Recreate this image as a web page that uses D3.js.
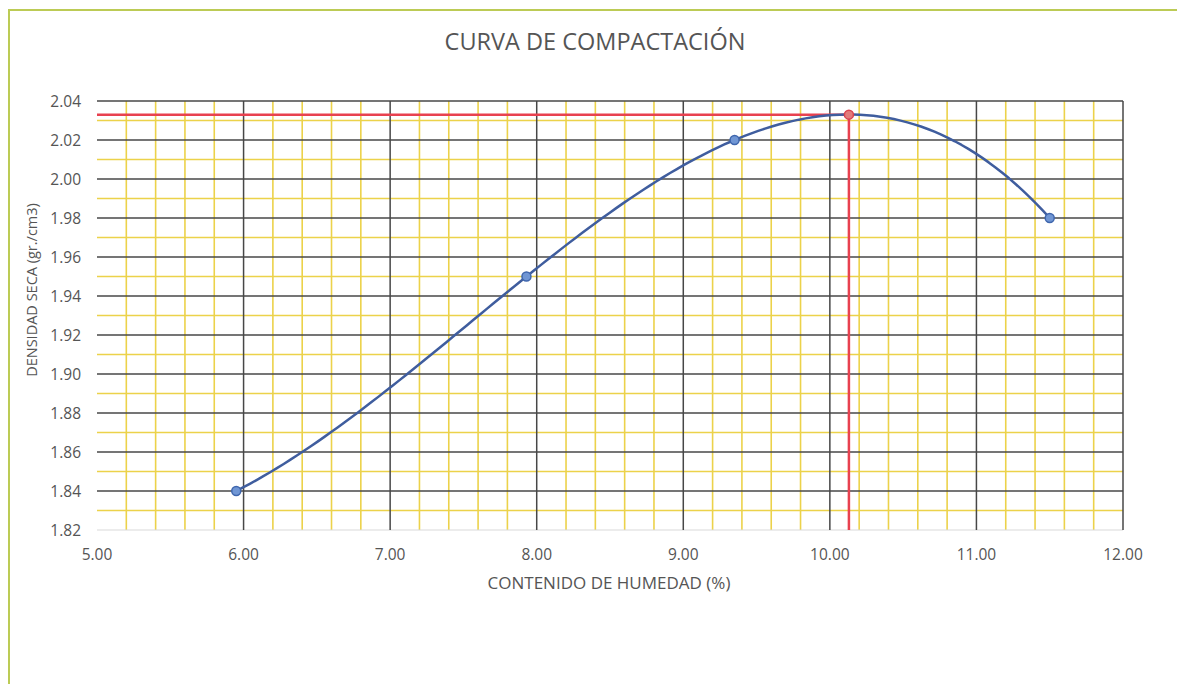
<!DOCTYPE html>
<html>
<head>
<meta charset="utf-8">
<script src="https://cdn.jsdelivr.net/npm/d3@7"></script>
<style>
  html, body { margin: 0; padding: 0; background: #ffffff; }
  svg { display: block; }
  text { font-family: "Open Sans", "Noto Sans", sans-serif; fill: #555555; }
</style>
</head>
<body>
<svg id="chart" width="1177" height="684"></svg>
<script>
// Ensayo Proctor: puntos medidos, contenido de humedad (%) vs densidad seca (gr./cm3)
const humedad  = [5.95, 7.93, 9.35, 11.50];
const densidad = [1.840, 1.950, 2.020, 1.980];

// Máxima densidad seca / óptimo contenido de humedad
const optimoHumedad = 10.13;
const maxDensidad   = 2.033;

const xTicks = [5, 6, 7, 8, 9, 10, 11, 12];
const yTicks = [1.82, 1.84, 1.86, 1.88, 1.90, 1.92, 1.94, 1.96, 1.98, 2.00, 2.02, 2.04];

const titulo = "CURVA DE COMPACTACIÓN";
const ejeX   = "CONTENIDO DE HUMEDAD (%)";
const ejeY   = "DENSIDAD SECA (gr./cm3)";

const svg = d3.select("#chart");
const W = 1177, H = 684;
const m = { left: 97, right: 1123, top: 101, bottom: 530 };

// Línea de tendencia polinómica (orden 3) por mínimos cuadrados
function ajustePolinomico(xs, ys, orden) {
  const n = orden + 1;
  const A = Array.from({ length: n }, () => new Array(n + 1).fill(0));
  for (let r = 0; r < n; r++) {
    for (let c = 0; c < n; c++) A[r][c] = d3.sum(xs, v => Math.pow(v, r + c));
    A[r][n] = d3.sum(xs, (v, i) => ys[i] * Math.pow(v, r));
  }
  for (let p = 0; p < n; p++) {
    let piv = p;
    for (let r = p + 1; r < n; r++) if (Math.abs(A[r][p]) > Math.abs(A[piv][p])) piv = r;
    [A[p], A[piv]] = [A[piv], A[p]];
    for (let r = 0; r < n; r++) {
      if (r === p) continue;
      const f = A[r][p] / A[p][p];
      for (let c = p; c <= n; c++) A[r][c] -= f * A[p][c];
    }
  }
  const coef = A.map((row, i) => row[n] / row[i]);
  return v => coef.reduce((s, c, i) => s + c * Math.pow(v, i), 0);
}

// Marco exterior
svg.append("rect")
  .attr("x", 9).attr("y", 10)
  .attr("width", W).attr("height", H)
  .attr("fill", "none")
  .attr("stroke", "#bccb55")
  .attr("stroke-width", 2);

const x = d3.scaleLinear().domain([5, 12]).range([m.left, m.right]);
const y = d3.scaleLinear().domain([1.82, 2.04]).range([m.bottom, m.top]);

const grid = svg.append("g");

// Líneas secundarias (amarillas)
const xMinor = d3.range(5, 12).flatMap(u => [0.2, 0.4, 0.6, 0.8].map(f => u + f));
const yMinor = d3.range(0, 11).map(i => 1.83 + i * 0.02);

grid.selectAll(".vmin").data(xMinor).join("line")
  .attr("x1", d => x(d)).attr("x2", d => x(d))
  .attr("y1", m.top).attr("y2", m.bottom)
  .attr("stroke", "#ecd24a").attr("stroke-width", 1.6);

grid.selectAll(".hmin").data(yMinor).join("line")
  .attr("x1", m.left).attr("x2", m.right)
  .attr("y1", d => y(d)).attr("y2", d => y(d))
  .attr("stroke", "#ecd24a").attr("stroke-width", 1.6);

// Línea inferior tenue
grid.append("line")
  .attr("x1", m.left).attr("x2", m.right)
  .attr("y1", y(1.82)).attr("y2", y(1.82))
  .attr("stroke", "#d9d9d9").attr("stroke-width", 1);

// Líneas principales (oscuras)
grid.selectAll(".vmaj").data(xTicks.slice(1)).join("line")
  .attr("x1", d => x(d)).attr("x2", d => x(d))
  .attr("y1", m.top).attr("y2", m.bottom)
  .attr("stroke", "#474747").attr("stroke-width", 1.5);

grid.selectAll(".hmaj").data(yTicks.slice(1)).join("line")
  .attr("x1", m.left).attr("x2", m.right)
  .attr("y1", d => y(d)).attr("y2", d => y(d))
  .attr("stroke", "#474747").attr("stroke-width", 1.5);

// Etiquetas de ejes
svg.append("g").selectAll("text").data(xTicks).join("text")
  .attr("x", d => x(d)).attr("y", 560)
  .attr("text-anchor", "middle")
  .attr("font-size", 15.5)
  .text(d => d3.format(".2f")(d));

svg.append("g").selectAll("text").data(yTicks).join("text")
  .attr("x", 81).attr("y", d => y(d) + 5.5)
  .attr("text-anchor", "end")
  .attr("font-size", 15.5)
  .text(d => d3.format(".2f")(d));

// Títulos
svg.append("text")
  .attr("x", 595).attr("y", 50)
  .attr("text-anchor", "middle")
  .attr("font-size", 23.5)
  .text(titulo);

svg.append("text")
  .attr("x", 609).attr("y", 589)
  .attr("text-anchor", "middle")
  .attr("font-size", 17)
  .text(ejeX);

svg.append("text")
  .attr("transform", "translate(37,290) rotate(-90)")
  .attr("text-anchor", "middle")
  .attr("font-size", 14.5)
  .text(ejeY);

// Líneas guía del óptimo
svg.append("line")
  .attr("x1", m.left).attr("x2", x(optimoHumedad))
  .attr("y1", y(maxDensidad)).attr("y2", y(maxDensidad))
  .attr("stroke", "#e8414f").attr("stroke-width", 2.5);
svg.append("line")
  .attr("x1", x(optimoHumedad)).attr("x2", x(optimoHumedad))
  .attr("y1", y(maxDensidad)).attr("y2", m.bottom)
  .attr("stroke", "#e8414f").attr("stroke-width", 2.5);

// Curva de compactación (tendencia entre el primer y el último punto medido)
const tendencia = ajustePolinomico(humedad, densidad, 3);
const [xMin, xMax] = d3.extent(humedad);
const trazo = d3.range(0, 121).map(i => {
  const h = xMin + (xMax - xMin) * i / 120;
  return [h, tendencia(h)];
});
const line = d3.line()
  .x(d => x(d[0])).y(d => y(d[1]))
  .curve(d3.curveLinear);

svg.append("path")
  .datum(trazo)
  .attr("d", line)
  .attr("fill", "none")
  .attr("stroke", "#3f5d9e")
  .attr("stroke-width", 2.5)
  .attr("stroke-linejoin", "round");

// Marcadores de los puntos medidos
const pts = humedad.map((h, i) => [h, densidad[i]]);
svg.append("g").selectAll("circle")
  .data(pts).join("circle")
  .attr("cx", d => x(d[0])).attr("cy", d => y(d[1]))
  .attr("r", 4.5)
  .attr("fill", "#7096d4")
  .attr("stroke", "#3f66ad")
  .attr("stroke-width", 1.5);

// Marcador del máximo
svg.append("circle")
  .attr("cx", x(optimoHumedad)).attr("cy", y(maxDensidad))
  .attr("r", 4.5)
  .attr("fill", "#e27b7b")
  .attr("stroke", "#d9434f")
  .attr("stroke-width", 1.5);
</script>
</body>
</html>
